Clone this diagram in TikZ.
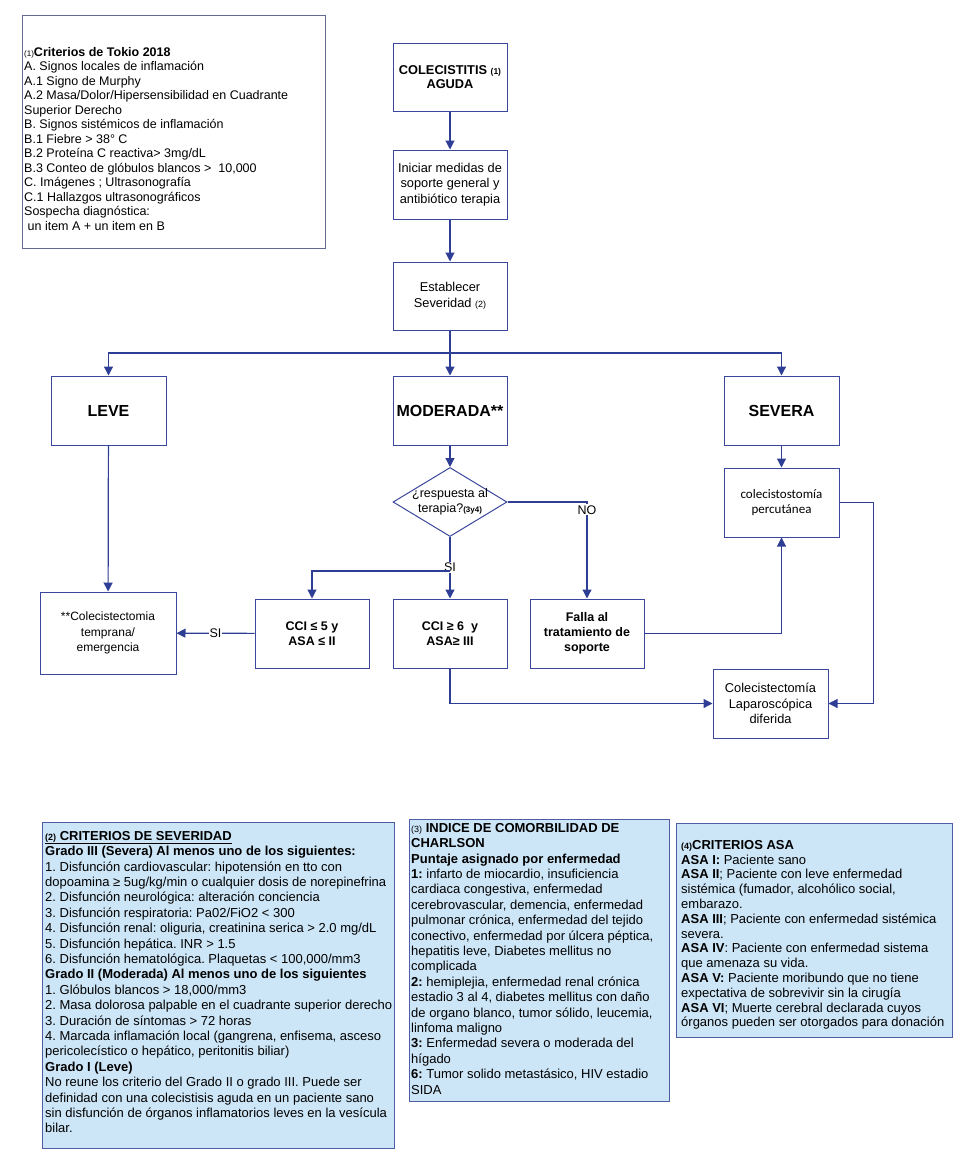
\documentclass[tikz,border=0pt]{standalone}
\usepackage{fontspec}
\setmainfont{Liberation Sans}
\newfontfamily\calibrifont{Carlito}
\usetikzlibrary{shapes.geometric,arrows.meta}
\frenchspacing

\definecolor{linecol}{HTML}{2D3E94}
\definecolor{boxcol}{HTML}{3B479C}
\definecolor{notefill}{HTML}{CDE6F7}
\definecolor{noteline}{HTML}{4F5DA6}
\definecolor{framecol}{HTML}{646B93}

\newcommand\setfs[2]{\fontsize{#1}{#2}\selectfont}

\tikzset{
  flowbox/.style={draw=boxcol, line width=1pt, minimum width=114, minimum height=68,
    align=center, inner sep=2pt, font=\setfs{12.8}{15.5}},
  boldbox/.style={flowbox, font=\bfseries\setfs{12.5}{15}},
  gradebox/.style={flowbox, font=\bfseries\setfs{16}{18}},
  decision/.style={diamond, draw=boxcol, line width=1pt, aspect=1.65,
    minimum width=114, minimum height=69, inner sep=0pt},
  notebox/.style={draw=noteline, fill=notefill, line width=1pt, anchor=north west},
  framebox/.style={draw=framecol, line width=1pt, anchor=north west},
  notetext/.style={align=left, inner sep=0pt, anchor=north west, font=\setfs{13}{15.4}},
  lbl/.style={fill=white, inner sep=1pt, font=\setfs{12.5}{14}},
  arr/.style={draw=linecol, line width=1.2pt, -{Triangle[length=9pt,width=9pt]}},
  ln/.style={draw=linecol, line width=1.2pt}
}

\begin{document}
\begin{tikzpicture}[x=1pt,y=-1pt]
  \useasboundingbox (0,0) rectangle (972,1173);

  % criterios de Tokio
  \node[framebox, minimum width=303, minimum height=233] (tokio) at (22,15) {};
  \node[notetext, font=\setfs{12.5}{14.5}] (tokiotxt) at (24,47) {%
    {\setfs{8}{9}(1)}\textbf{Criterios de Tokio 2018}\\
    A. Signos locales de inflamación\\
    A.1 Signo de Murphy\\
    A.2 Masa/Dolor/Hipersensibilidad en Cuadrante\\
    Superior Derecho\\
    B. Signos sistémicos de inflamación\\
    B.1 Fiebre > 38° C\\
    B.2 Proteína C reactiva> 3mg/dL\\
    B.3 Conteo de glóbulos blancos >\ \ 10,000\\
    C. Imágenes ; Ultrasonografía\\
    C.1 Hallazgos ultrasonográficos\\
    Sospecha diagnóstica:\\
    \ un item A + un item en B};

  % flujo principal
  \node[flowbox, font=\bfseries\setfs{12.8}{14.5}] (colec) at (450,77) {COLECISTITIS {\setfs{8.5}{9}(1)}\\AGUDA};
  \node[flowbox, minimum height=69] (iniciar) at (450,184.5) {Iniciar medidas de\\soporte general y\\antibiótico terapia};
  \node[flowbox] (establecer) at (450,296) {Establecer\\Severidad {\setfs{9}{10}(2)}};

  \node[gradebox, minimum width=115, minimum height=69] (leve) at (108.5,410.5) {LEVE};
  \node[gradebox, minimum height=69] (moderada) at (450,410.5) {MODERADA**};
  \node[gradebox, minimum width=115, minimum height=69] (severa) at (781.5,410.5) {SEVERA};

  \node[decision] (resp) at (450,502) {};
  \node[align=center, inner sep=0pt, font=\setfs{12.5}{15}] (resptxt) at (450,502) {¿respuesta al\\terapia?{\bfseries\setfs{8}{9}(3y4)}};
  \node[flowbox, minimum width=115, minimum height=69, font=\calibrifont\setfs{13}{15.5}] (percut) at (781.5,502.5) {colecistostomía\\percutánea};

  \node[flowbox, minimum width=136, minimum height=82, font=\setfs{12}{15.5}] (temprana) at (108,633) {**Colecistectomia\\temprana/\\emergencia};
  \node[boldbox, minimum height=69] (cci5) at (312,633.5) {CCI ≤ 5 y\\ASA ≤ II};
  \node[boldbox, minimum height=69] (cci6) at (450,633.5) {CCI ≥ 6\ \ y\\ASA≥ III};
  \node[boldbox, minimum height=69] (falla) at (587,633.5) {Falla al\\tratamiento de\\soporte};
  \node[flowbox, minimum width=115, minimum height=69] (lapar) at (770.5,703.5) {Colecistectomía\\Laparoscópica\\diferida};

  \coordinate (split) at (450,353);
  \coordinate (sisplit) at (450,571);

  \draw[arr] (colec) -- (iniciar);
  \draw[arr] (iniciar) -- (establecer);
  \draw[arr] (establecer) -- (moderada);
  \draw[arr] (split) -| (leve.north);
  \draw[arr] (split) -| (severa.north);
  \draw[arr] (moderada) -- (resp);
  \draw[arr] (severa) -- (percut);
  \draw[arr] (leve) -- (temprana);
  \draw[arr] (resp.south) -- node[lbl, pos=0.49] {SI} (cci6.north);
  \draw[arr] (sisplit) -| (cci5.north);
  \draw[arr] (resp.east) -| node[lbl, pos=0.541] {NO} (falla.north);
  \draw[arr] (cci5) -- node[lbl] {SI} (temprana);
  \draw[arr] (falla.east) -| (percut.south);
  \draw[arr] (cci6.south) |- (lapar.west);
  \draw[arr] (percut.east) -- ++(34,0) |- (lapar.east);

  % criterios de severidad
  \node[notebox, minimum width=352, minimum height=326] (sevbox) at (42,822) {};
  \node[notetext] (sevtxt) at (45,831) {%
    \underline{\textbf{{\setfs{9}{11}(2)} CRITERIOS DE SEVERIDAD}}\\
    \textbf{Grado III (Severa) Al menos uno de los siguientes:}\\
    1. Disfunción cardiovascular: hipotensión en tto con\\
    dopoamina ≥ 5ug/kg/min o cualquier dosis de norepinefrina\\
    2. Disfunción neurológica: alteración conciencia\\
    3. Disfunción respiratoria: Pa02/FiO2 < 300\\
    4. Disfunción renal: oliguria, creatinina serica > 2.0 mg/dL\\
    5. Disfunción hepática. INR > 1.5\\
    6. Disfunción hematológica. Plaquetas < 100,000/mm3\\
    \textbf{Grado II (Moderada) Al menos uno de los siguientes}\\
    1. Glóbulos blancos > 18,000/mm3\\
    2. Masa dolorosa palpable en el cuadrante superior derecho\\
    3. Duración de síntomas > 72 horas\\
    4. Marcada inflamación local (gangrena, enfisema, asceso\\
    pericolecístico o hepático, peritonitis biliar)\\
    \textbf{Grado I (Leve)}\\
    No reune los criterio del Grado II o grado III. Puede ser\\
    definidad con una colecistisis aguda en un paciente sano\\
    sin disfunción de órganos inflamatorios leves en la vesícula\\
    bilar.};

  % indice de Charlson
  \node[notebox, minimum width=260, minimum height=282] (charlbox) at (409,819) {};
  \node[notetext] (charltxt) at (411,823) {%
    {\setfs{9}{11}(3)} \textbf{INDICE DE COMORBILIDAD DE}\\
    \textbf{CHARLSON}\\
    \textbf{Puntaje asignado por enfermedad}\\
    \textbf{1:} infarto de miocardio, insuficiencia\\
    cardiaca congestiva, enfermedad\\
    cerebrovascular, demencia, enfermedad\\
    pulmonar crónica, enfermedad del tejido\\
    conectivo, enfermedad por úlcera péptica,\\
    hepatitis leve, Diabetes mellitus no\\
    complicada\\
    \textbf{2:} hemiplejia, enfermedad renal crónica\\
    estadio 3 al 4, diabetes mellitus con daño\\
    de organo blanco, tumor sólido, leucemia,\\
    linfoma maligno\\
    \textbf{3:} Enfermedad severa o moderada del\\
    hígado\\
    \textbf{6:} Tumor solido metastásico, HIV estadio\\
    SIDA};

  % criterios ASA
  \node[notebox, minimum width=276, minimum height=214] (asabox) at (676,823) {};
  \node[notetext, font=\setfs{13}{14.8}] (asatxt) at (681,840) {%
    {\bfseries\setfs{9}{11}(4)}\textbf{CRITERIOS ASA}\\
    \textbf{ASA I:} Paciente sano\\
    \textbf{ASA II}; Paciente con leve enfermedad\\
    sistémica (fumador, alcohólico social,\\
    embarazo.\\
    \textbf{ASA III}; Paciente con enfermedad sistémica\\
    severa.\\
    \textbf{ASA IV}: Paciente con enfermedad sistema\\
    que amenaza su vida.\\
    \textbf{ASA V:} Paciente moribundo que no tiene\\
    expectativa de sobrevivir sin la cirugía\\
    \textbf{ASA VI}; Muerte cerebral declarada cuyos\\
    órganos pueden ser otorgados para donación};
\end{tikzpicture}
\end{document}
